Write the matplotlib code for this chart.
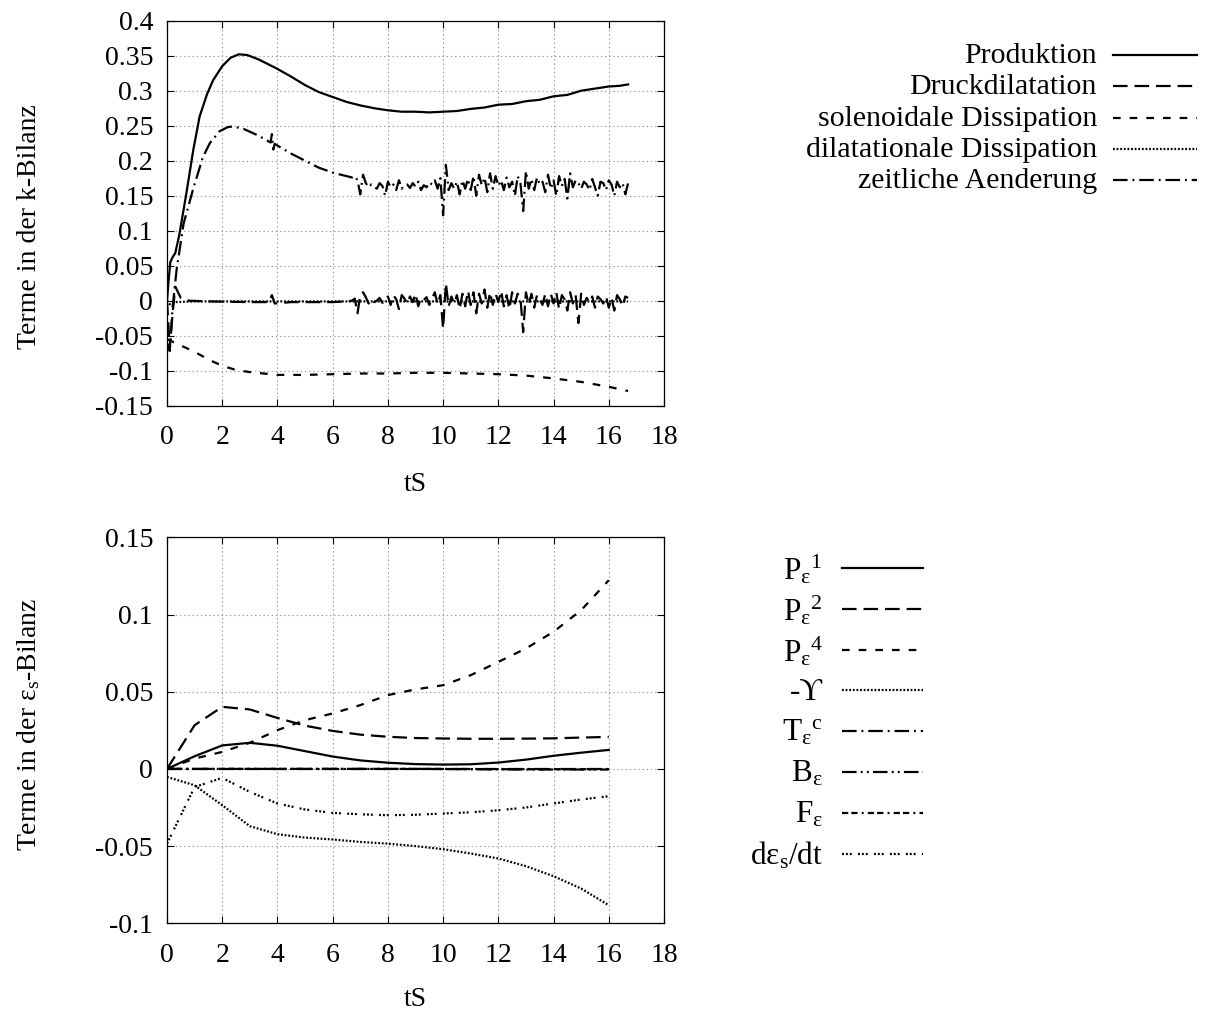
import numpy as np
import matplotlib
matplotlib.use("Agg")
import matplotlib.pyplot as plt
from matplotlib.lines import Line2D

plt.rcParams['font.family'] = ['Liberation Serif', 'DejaVu Serif']
plt.rcParams['mathtext.fontset'] = 'custom'
plt.rcParams['mathtext.rm'] = 'Liberation Serif'
plt.rcParams['mathtext.it'] = 'Liberation Serif:italic'
plt.rcParams['mathtext.bf'] = 'Liberation Serif:bold'
plt.rcParams['lines.scale_dashes'] = False

# ---------------- top panel data (k-Bilanz) ----------------
t_prod = [0, 0.05, 0.12, 0.2, 0.3, 0.45, 0.7, 0.95, 1.18, 1.45, 1.67, 2.0, 2.3, 2.6, 2.9, 3.3,
          3.96, 4.5, 5.0, 5.5, 6.0, 6.5, 7.0, 7.5, 8.0, 8.5, 9.0, 9.5, 10.0, 10.5, 11.0, 11.5,
          12.0, 12.5, 13.0, 13.5, 14.0, 14.5, 15.0, 15.5, 16.0, 16.4, 16.7]
produktion = [0.0, 0.025, 0.055, 0.062, 0.068, 0.095, 0.153, 0.215, 0.263, 0.295, 0.315, 0.335,
              0.347, 0.352, 0.351, 0.345, 0.332, 0.320, 0.308, 0.298, 0.291, 0.284, 0.279, 0.275,
              0.272, 0.270, 0.270, 0.269, 0.270, 0.271, 0.274, 0.276, 0.280, 0.281, 0.285, 0.287,
              0.292, 0.294, 0.300, 0.303, 0.306, 0.307, 0.309]

t_sol = [0, 0.5, 1, 1.5, 2, 2.5, 3, 3.5, 4, 5, 6, 7, 8, 9, 10, 11, 12, 13, 14, 15, 16, 16.7]
sol_diss = [-0.055, -0.064, -0.073, -0.084, -0.093, -0.099, -0.102, -0.104, -0.106, -0.106,
            -0.105, -0.104, -0.104, -0.103, -0.103, -0.104, -0.105, -0.107, -0.111, -0.116,
            -0.123, -0.129]

t_dil = [0, 0.1, 0.3, 1.0, 16.7]
dil_diss = [0.0, -0.005, -0.002, -0.001, -0.001]

# smooth start of the noisy series
t_druck_start = [0, 0.1, 0.2, 0.3, 0.5, 0.8, 1.5, 3.0, 3.7, 3.8, 3.9, 4.5, 6.0, 6.5, 6.7]
druck_start = [0.0, -0.068, -0.02, 0.02, 0.004, 0.0, -0.001, -0.002, -0.002, 0.008, -0.004,
               -0.002, -0.002, -0.001, 0.0]
t_zeit_start = [0, 0.1, 0.2, 0.35, 0.6, 0.95, 1.3, 1.55, 1.9, 2.2, 2.4, 2.8, 3.3, 3.75, 3.8,
                3.85, 3.9, 4.5, 5.0, 5.5, 6.0, 6.5, 6.7]
zeit_start = [-0.06, -0.072, -0.01, 0.045, 0.11, 0.16, 0.205, 0.225, 0.242, 0.248, 0.249, 0.245,
              0.236, 0.226, 0.238, 0.216, 0.224, 0.21, 0.2, 0.19, 0.183, 0.178, 0.176]

# noisy part, sampled every 0.1 from tS = 6.8 to 16.7
t_noise = np.round(np.arange(6.8, 16.75, 0.1), 2)
zeit_noise = [0.178, 0.172, 0.152, 0.180, 0.168, 0.162, 0.166, 0.163, 0.160, 0.168,
              0.164, 0.150, 0.170, 0.162, 0.166, 0.158, 0.172, 0.160, 0.165, 0.166,
              0.161, 0.168, 0.163, 0.170, 0.158, 0.165, 0.162, 0.169, 0.166, 0.172,
              0.160, 0.175, 0.122, 0.194, 0.158, 0.168, 0.160, 0.170, 0.152, 0.172,
              0.160, 0.174, 0.158, 0.178, 0.150, 0.180, 0.165, 0.176, 0.155, 0.182,
              0.160, 0.178, 0.164, 0.172, 0.158, 0.176, 0.162, 0.170, 0.150, 0.178,
              0.168, 0.128, 0.185, 0.160, 0.174, 0.158, 0.176, 0.166, 0.170, 0.155,
              0.180, 0.160, 0.172, 0.150, 0.178, 0.164, 0.174, 0.146, 0.182, 0.162,
              0.172, 0.168, 0.160, 0.170, 0.166, 0.158, 0.174, 0.162, 0.150, 0.170,
              0.168, 0.158, 0.172, 0.166, 0.150, 0.170, 0.162, 0.168, 0.152, 0.168]
druck_noise = [0.003, -0.018, 0.008, 0.012, 0.005, -0.004, 0.002, -0.002, 0.000, 0.004,
               -0.003, -0.002, 0.006, -0.006, 0.008, 0.002, -0.012, 0.008, 0.003, -0.004,
               0.006, -0.002, 0.010, -0.008, 0.004, 0.001, 0.005, -0.006, 0.003, 0.012,
               -0.005, 0.008, -0.040, 0.025, -0.008, 0.006, -0.004, 0.008, -0.012, 0.010,
               -0.008, 0.014, -0.006, 0.012, -0.018, 0.010, -0.004, 0.016, -0.010, 0.012,
               -0.006, 0.010, -0.002, 0.014, -0.008, 0.008, -0.012, 0.012, -0.004, 0.010,
               0.004, -0.045, 0.012, -0.006, 0.010, -0.010, 0.008, 0.002, -0.006, 0.010,
               -0.008, 0.010, -0.004, 0.012, -0.012, 0.008, 0.002, -0.014, 0.012, -0.004,
               0.008, -0.032, 0.010, -0.006, 0.004, -0.002, 0.006, -0.010, 0.006, 0.002,
               -0.004, 0.006, -0.010, 0.004, -0.014, 0.008, 0.002, -0.008, 0.006, 0.004]

top_labels = ['Produktion', 'Druckdilatation', 'solenoidale Dissipation',
              'dilatationale Dissipation', 'zeitliche Aenderung']

# ---------------- bottom panel data (eps_s-Bilanz) ----------------
t_eps = [0, 1, 2, 3, 4, 5, 6, 7, 8, 9, 10, 11, 12, 13, 14, 15, 16]
P1 = [0.0, 0.0082, 0.0152, 0.0169, 0.0150, 0.0115, 0.0080, 0.0055, 0.0040, 0.0031, 0.0028,
      0.0030, 0.0041, 0.0060, 0.0085, 0.0105, 0.0123]
P2 = [0.0, 0.0283, 0.0402, 0.0385, 0.0330, 0.0280, 0.0246, 0.0222, 0.0208, 0.0200, 0.0197,
      0.0195, 0.0195, 0.0196, 0.0198, 0.0203, 0.0207]
P4 = [0.0, 0.0067, 0.0110, 0.0169, 0.0251, 0.0316, 0.0359, 0.0413, 0.0478, 0.0515, 0.0542,
      0.0607, 0.0693, 0.0780, 0.0888, 0.1028, 0.1222]
Ups = [-0.0052, -0.0106, -0.0235, -0.0371, -0.0423, -0.0445, -0.0457, -0.0473, -0.0484,
       -0.0500, -0.0520, -0.0548, -0.0580, -0.0630, -0.0695, -0.0775, -0.0883]
Tc = [0.0, 0.0, 0.0, 0.0, 0.0, 0.0, 0.0, 0.0, 0.0, 0.0, 0.0, 0.0, 0.0, 0.0, 0.0, 0.0, 0.0]
Be = [0.0, 0.0, 0.0, 0.0, 0.0, 0.0, 0.0, 0.0, 0.0, 0.0, -0.0001, -0.0002, -0.0003, -0.0004,
      -0.0004, -0.0004, -0.0004]
Fe = [0.0, 0.0, 0.0, 0.0, 0.0, 0.0, 0.0, 0.0, 0.0, 0.0, 0.0, -0.0001, -0.0002, -0.0002,
      -0.0002, -0.0002, -0.0002]
dedt = [-0.0484, -0.0117, -0.0058, -0.0149, -0.0224, -0.0263, -0.0285, -0.0294, -0.0300,
        -0.0297, -0.0289, -0.0281, -0.0268, -0.0250, -0.0224, -0.0198, -0.0177]

bot_labels = [r'P$_{\mathrm{ε}}{}^{\mathrm{1}}$', r'P$_{\mathrm{ε}}{}^{\mathrm{2}}$',
              r'P$_{\mathrm{ε}}{}^{\mathrm{4}}$', '-ϒ', r'T$_{\mathrm{ε}}{}^{\mathrm{c}}$',
              r'B$_{\mathrm{ε}}$', r'F$_{\mathrm{ε}}$',
              r'dε$_{\mathrm{s}}$/dt']

# ---------------- styles ----------------
LW = 1.6
FS = 20
st_solid = '-'
st_long = (0, (10.5, 5.0))
st_short = (0, (5.5, 6.5))
st_dot = (0, (1.3, 1.3))
st_dashdot = (0, (10.5, 3.5, 1.4, 3.5))
st_dashdotdot = (0, (10.5, 3.0, 1.4, 3.0, 1.4, 3.0))
st_dddot = (0, (4.5, 2.2, 4.5, 3.0, 1.4, 3.0))
st_dots3 = (0, (1.4, 1.4, 1.4, 1.4, 1.4, 4.5))

fig = plt.figure(figsize=(12.1, 10.15), dpi=100)
W, H = 1210, 1015


def make_axes(top_px, bot_px):
    return fig.add_axes([167 / W, (H - bot_px) / H, (664 - 167) / W, (bot_px - top_px) / H])


def style_axes(ax):
    ax.grid(True, linestyle=(0, (1, 2)), color='#9a9a9a', linewidth=0.8)
    ax.tick_params(direction='in', top=True, right=True, length=5, width=0.8,
                   labelsize=FS, pad=10)
    ax.tick_params(axis='x', pad=14)
    for s in ax.spines.values():
        s.set_linewidth(0.9)
    ax.set_axisbelow(True)


ax1 = make_axes(20.7, 405.7)
ax1.plot(t_prod, produktion, color='k', lw=LW, linestyle=st_solid)
ax1.plot(t_druck_start + list(t_noise), druck_start + druck_noise, color='k', lw=LW,
         linestyle=st_long)
ax1.plot(t_sol, sol_diss, color='k', lw=LW, linestyle=st_short)
ax1.plot(t_dil, dil_diss, color='k', lw=LW, linestyle=st_dot)
ax1.plot(t_zeit_start + list(t_noise), zeit_start + zeit_noise, color='k', lw=LW,
         linestyle=st_dashdot)
ax1.set_xlim(0, 18)
ax1.set_ylim(-0.15, 0.4)
ax1.set_xticks(np.arange(0, 19, 2))
ax1.set_yticks([0.4, 0.35, 0.3, 0.25, 0.2, 0.15, 0.1, 0.05, 0, -0.05, -0.1, -0.15])
ax1.set_yticklabels(['0.4', '0.35', '0.3', '0.25', '0.2', '0.15', '0.1', '0.05', '0',
                     '-0.05', '-0.1', '-0.15'])
style_axes(ax1)
ax1.set_xlabel('tS', fontsize=FS, labelpad=16)
ax1.set_ylabel('Terme in der k-Bilanz', fontsize=FS)
ax1.yaxis.set_label_coords(-0.252, 0.464)

ax2 = make_axes(537.3, 923.3)
ax2.plot(t_eps, P1, color='k', lw=LW, linestyle=st_solid)
ax2.plot(t_eps, P2, color='k', lw=LW, linestyle=st_long)
ax2.plot(t_eps, P4, color='k', lw=LW, linestyle=st_short)
ax2.plot(t_eps, Ups, color='k', lw=LW, linestyle=st_dot)
ax2.plot(t_eps, Tc, color='k', lw=LW, linestyle=st_dashdot)
ax2.plot(t_eps, Be, color='k', lw=LW, linestyle=st_dashdotdot)
ax2.plot(t_eps, Fe, color='k', lw=LW, linestyle=st_dddot)
ax2.plot(t_eps, dedt, color='k', lw=LW, linestyle=st_dots3)
ax2.set_xlim(0, 18)
ax2.set_ylim(-0.1, 0.15)
ax2.set_xticks(np.arange(0, 19, 2))
ax2.set_yticks([0.15, 0.1, 0.05, 0, -0.05, -0.1])
ax2.set_yticklabels(['0.15', '0.1', '0.05', '0', '-0.05', '-0.1'])
style_axes(ax2)
ax2.set_xlabel('tS', fontsize=FS, labelpad=14)
ax2.set_ylabel(r'Terme in der ε$_{\mathrm{s}}$-Bilanz', fontsize=FS)
ax2.yaxis.set_label_coords(-0.252, 0.514)

# ---------------- legends (gnuplot style: text right, sample left of it) -------------
top_styles = [st_solid, st_long, st_short, st_dot, st_dashdot]
for i, (lab, ls) in enumerate(zip(top_labels, top_styles)):
    y = 55 + i * 31.3
    fig.text(1097 / W, 1 - (y + 1) / H, lab, ha='right', va='center', fontsize=21.5)
    fig.add_artist(Line2D([1113 / W, 1197 / W], [1 - y / H, 1 - y / H], color='k', lw=LW,
                          linestyle=ls, transform=fig.transFigure))

bot_styles = [st_solid, st_long, st_short, st_dot, st_dashdot, st_dashdotdot, st_dddot,
              st_dots3]
for i, (lab, ls) in enumerate(zip(bot_labels, bot_styles)):
    y = 568 + i * 40.8
    fig.text(823 / W, 1 - (y + 2) / H, lab, ha='right', va='center', fontsize=22.5)
    fig.add_artist(Line2D([842 / W, 923 / W], [1 - y / H, 1 - y / H], color='k', lw=LW,
                          linestyle=ls, transform=fig.transFigure))

fig.savefig('out.png', dpi=100)
